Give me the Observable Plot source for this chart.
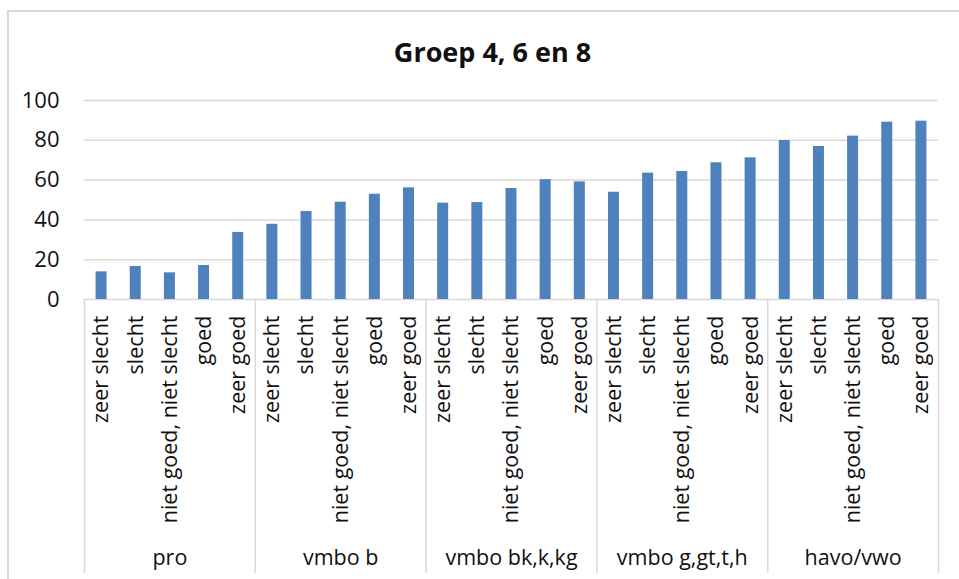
<!DOCTYPE html>
<html><head><meta charset="utf-8">
<script src="https://cdn.jsdelivr.net/npm/d3@7"></script>
<script src="https://cdn.jsdelivr.net/npm/@observablehq/plot@0.6"></script>
<style>
body{margin:0;background:#fff;}
#wrap{position:relative;width:959px;height:579px;overflow:hidden;background:#fff;}
#border{position:absolute;left:7px;top:10px;width:990px;height:620px;border:2px solid #d9d9d9;box-sizing:border-box;}
#chart{position:absolute;left:0;top:0;}
</style></head><body>
<div id="wrap"><div id="border"></div><div id="chart"></div></div>
<script>
const title = "Groep 4, 6 en 8";
const groups = ["pro", "vmbo b", "vmbo bk,k,kg", "vmbo g,gt,t,h", "havo/vwo"];
const categories = ["zeer slecht", "slecht", "niet goed, niet slecht", "goed", "zeer goed"];
const proValues = [13.9, 16.6, 13.4, 17.1, 33.7];
const vmboBValues = [37.8, 44.2, 48.9, 52.9, 56.1];
const vmboBkValues = [48.4, 48.7, 55.8, 60.2, 59.1];
const vmboGValues = [53.9, 63.5, 64.3, 68.7, 71.2];
const havoVwoValues = [79.9, 76.9, 82.1, 89.1, 89.6];
const yTicks = [0, 20, 40, 60, 80, 100];

const seriesValues = [proValues, vmboBValues, vmboBkValues, vmboGValues, havoVwoValues];
const data = groups.flatMap((g, gi) => categories.map((c, ci) => ({
  group: g, category: c, value: seriesValues[gi][ci], index: gi * categories.length + ci
})));
const n = data.length;
const boundaries = d3.range(0, n + 1, categories.length);
const groupCenters = groups.map((g, gi) => ({group: g, pos: gi * categories.length + categories.length / 2}));

const font = "'Open Sans', 'Noto Sans', sans-serif";
const fs = 21.5;
const chart = Plot.plot({
  width: 959,
  height: 579,
  marginLeft: 84,
  marginRight: 21,
  marginTop: 100,
  marginBottom: 280,
  style: {fontFamily: font, fontSize: fs + "px", color: "#111", background: "transparent"},
  x: {domain: [0, n], axis: null},
  y: {domain: [0, 100], axis: null},
  marks: [
    Plot.ruleY(yTicks, {stroke: "#d9d9d9", strokeWidth: 1.5}),
    Plot.ruleX(boundaries, {stroke: "#d9d9d9", strokeWidth: 1.5, insetTop: 199, insetBottom: -274}),
    Plot.rectY(data, {x1: d => d.index + 0.339, x2: d => d.index + 0.661, y: "value", fill: "#4f81bd"}),
    Plot.text(yTicks, {y: d => d, text: d => String(d), frameAnchor: "left", textAnchor: "end", dx: -25, fill: "#111", fontSize: 22}),
    Plot.text(data, {x: d => d.index + 0.5, text: "category", frameAnchor: "bottom", rotate: -90, textAnchor: "end", lineAnchor: "middle", dy: 16, fill: "#111", fontSize: fs}),
    Plot.text(groupCenters, {x: "pos", text: "group", frameAnchor: "bottom", lineAnchor: "middle", dy: 259, fill: "#111", fontSize: fs}),
    Plot.text([title], {frameAnchor: "top", dy: -58, dx: -19, fontWeight: "bold", fontSize: 27, fill: "#111"})
  ]
});
document.getElementById("chart").appendChild(chart);
</script>
</body></html>
